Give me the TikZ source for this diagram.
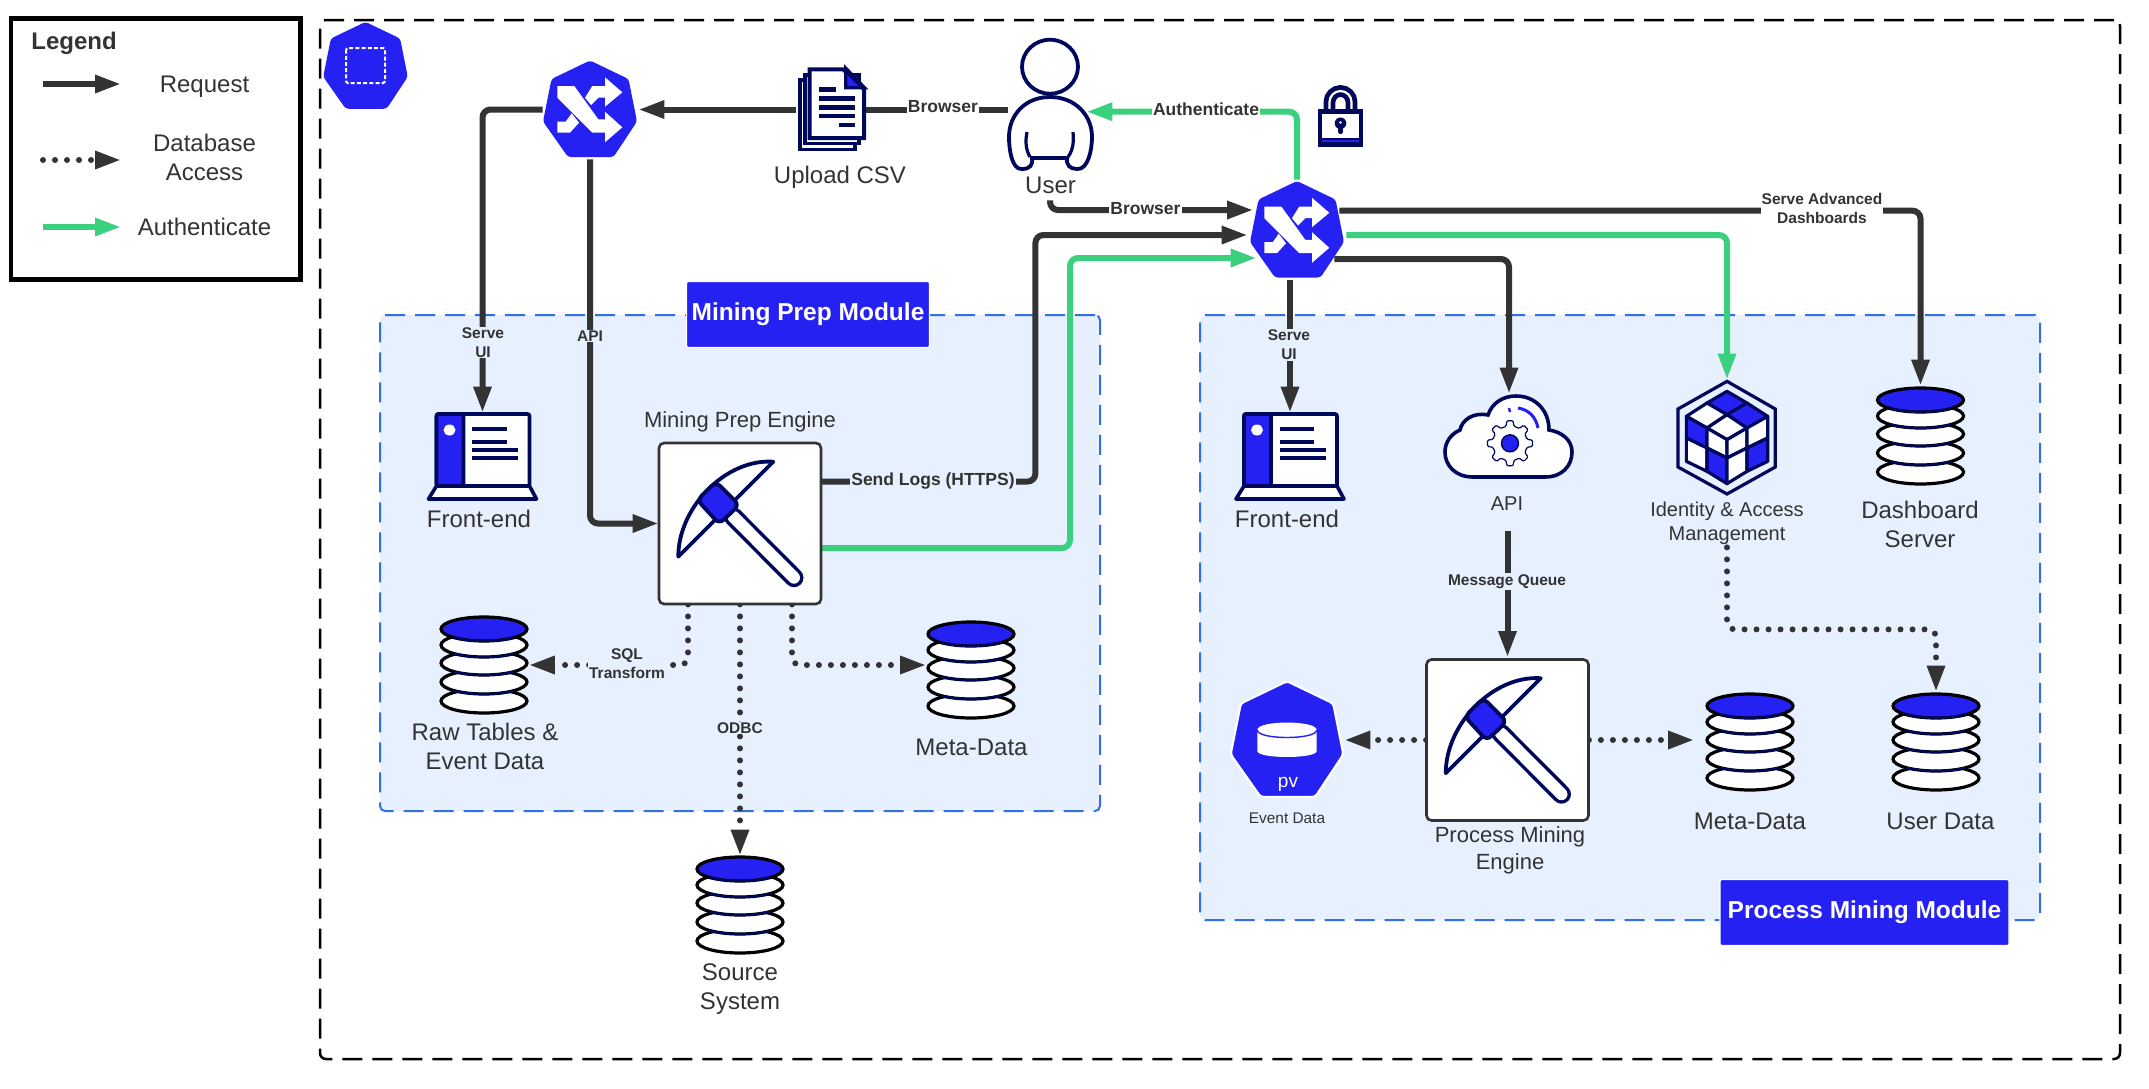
\documentclass[tikz,border=0pt]{standalone}
\usepackage{fontspec}
\setmainfont{Liberation Sans}
\usetikzlibrary{calc,arrows.meta}

\definecolor{kubeblue}{RGB}{37,33,243}
\definecolor{iconnavy}{RGB}{0,8,92}
\definecolor{zonefill}{RGB}{230,240,255}
\definecolor{zoneline}{RGB}{50,111,230}
\definecolor{flowgray}{RGB}{51,51,51}
\definecolor{authgreen}{RGB}{58,208,126}

\tikzset{
	box/.style 2 args={inner sep=0pt,minimum width=#1*0.5pt,minimum height=#2*0.5pt},
	request/.style={draw=flowgray,line width=3pt,rounded corners=4pt,-{Triangle[length=13pt,width=8.5pt]}},
	requestline/.style={draw=flowgray,line width=3pt},
	authflow/.style={draw=authgreen,line width=3pt,rounded corners=4pt,-{Triangle[length=13pt,width=8.5pt]}},
	dbaccess/.style={draw=flowgray,line width=3pt,line cap=round,dash pattern=on 0pt off 6pt,rounded corners=4pt,-{Triangle[length=13pt,width=8.5pt]}},
	zone/.style={draw=zoneline,fill=zonefill,line width=1pt,rounded corners=2.5pt,dash pattern=on 10pt off 5pt},
	modtag/.style={fill=kubeblue,draw=white,line width=0.6pt,rounded corners=1pt,text=white,font=\fontsize{12.25}{14.5}\selectfont\bfseries},
	bigtxt/.style={text=flowgray,align=center,inner sep=0pt,font=\fontsize{12}{14.5}\selectfont},
	midtxt/.style={text=flowgray,align=center,inner sep=0pt,font=\fontsize{11}{13.25}\selectfont},
	smalltxt/.style={text=flowgray,align=center,inner sep=0pt,font=\fontsize{10}{12.3}\selectfont},
	flowtxt/.style={text=flowgray,align=center,inner sep=0.5pt,font=\fontsize{7.75}{9.5}\selectfont\bfseries},
	flowbig/.style={text=flowgray,align=center,inner sep=0.5pt,font=\fontsize{8.75}{10.5}\selectfont\bfseries},
	navyline/.style={draw=iconnavy,line width=#1},
}

\def\heptagon(#1)[#2][#3]{\begin{scope}[shift={(#1.center)},scale=#2]
	\path[fill=kubeblue,#3,rounded corners=1.5pt] (0,-49) -- (38.5,-30.5) -- (47,12) -- (23.5,47.5) -- (-22,47.5) -- (-47,12) -- (-38.5,-30.5) -- cycle;
\end{scope}}
\def\switchicon(#1){\heptagon(#1)[1][]
\begin{scope}[shift={(#1.center)}]
	\fill[white] (-32.7,-23.5) -- (-15.7,-23.5) -- (8.3,9.8) -- (15,9.8) -- (15,2.2) -- (32.3,17.8) -- (15,32.8) -- (15,23.2) -- (2.3,23.2) -- (-32.7,-11.8) -- cycle;
	\fill[white] (15,-32.2) -- (32.3,-17.2) -- (15,-2.8) -- (15,-11.8) -- (8.3,-11.8) -- (1,-4.5) -- (-5,-11.8) -- (2.3,-23.5) -- (15,-23.5) -- cycle;
	\fill[white] (-32.7,12.2) -- (-24.3,12.2) -- (-18.3,3.8) -- (-11,13.2) -- (-20,23.2) -- (-32.7,23.2) -- cycle;
\end{scope}}
\def\dbstack(#1){\begin{scope}[shift={(#1.center)}]
	\foreach \yy in {36,17,-2,-20} {
		\draw[fill=white,line width=1.6pt] (0,\yy) circle[x radius=43,y radius=12];
	}
	\draw[fill=kubeblue,line width=1.6pt] (0,-36) circle[x radius=43,y radius=12];
	\foreach \yy in {17,-2,-20,-36} {
		\draw[navyline=1.1pt] (-30,\yy+8.6) .. controls (-12,\yy+13.1) and (12,\yy+13.1) .. (30,\yy+8.6);
	}
\end{scope}}
\def\screenicon(#1){\begin{scope}[shift={(#1.center)}]
	\draw[fill=white,navyline=1.8pt,rounded corners=1pt] (-46,-43) rectangle (47,29);
	\draw[fill=kubeblue,navyline=1.8pt,rounded corners=1pt] (-46,-43) rectangle (-19,29);
	\fill[white] (-33,-27) circle[x radius=6,y radius=5.5];
	\draw[fill=white,navyline=1.8pt,line join=round] (-46,29) -- (47,29) -- (54,42) -- (-54,42) -- cycle;
	\draw[navyline=1.8pt] (-10.5,-28) -- (24,-28);
	\draw[navyline=1.8pt] (-10.5,-15) -- (24,-15);
	\draw[navyline=1.8pt] (-10.5,-7) -- (35.5,-7);
	\draw[navyline=1.8pt] (-10.5,1) -- (35.5,1);
\end{scope}}
\def\pickicon(#1){\begin{scope}[shift={(#1.center)}]
	\draw[fill=white,draw=flowgray,line width=1.3pt,rounded corners=2.5pt] (-81,-80.5) rectangle (81,80.5);
	\draw[fill=white,navyline=1.9pt,line join=round] (-61.7,33.2) .. controls (-62,-15) and (-15,-65) .. (33.3,-61.8) -- cycle;
	\draw[navyline=9.5pt,line cap=round] (-6.7,-6.8) -- (54,54.2);
	\draw[draw=white,line width=6pt,line cap=round] (-6.7,-6.8) -- (54,54.2);
	\draw[fill=kubeblue,navyline=1.9pt,rounded corners=3pt] (-24,-41.8) -- (-0.7,-18.5) -- (-20.7,0.5) -- (-42.7,-23.5) -- cycle;
\end{scope}}
\def\usericon(#1){\begin{scope}[shift={(#1.center)}]
	\draw[fill=white,navyline=1.9pt] (0,-37.3) circle[x radius=28,y radius=27];
	\draw[fill=white,navyline=1.9pt] (0,-7) .. controls (-25,-7) and (-41,11) .. (-41,33) .. controls (-41,46) and (-38,66) .. (-28,65) .. controls (-20,65) and (-17,61) .. (-18,54) -- (17,54) .. controls (16,61) and (20,65) .. (27,65) .. controls (38,66) and (42,46) .. (42,33) .. controls (42,11) and (25,-7) .. (0,-7) -- cycle;
	\draw[navyline=1.6pt] (-23,28) .. controls (-25,38) and (-24,46) .. (-20,53);
	\draw[navyline=1.6pt] (23,28) .. controls (24,38) and (23,46) .. (18,53);
\end{scope}}
\def\csvicon(#1){\begin{scope}[shift={(#1.center)}]
	\draw[fill=white,navyline=1.6pt] (-30,-29.5) rectangle (25,40);
	\draw[fill=white,navyline=1.6pt] (-25,-34.5) rectangle (29,33.8);
	\draw[fill=white,navyline=2pt] (-20.3,-40.2) -- (13.3,-40.2) -- (34,-20.2) -- (34,28.5) -- (-20.3,28.5) -- cycle;
	\fill[iconnavy] (14,-45.5) -- (38.3,-20.2) -- (14,-20.2) -- cycle;
	\fill[kubeblue] (17.3,-34.5) -- (28.3,-23.5) -- (17.3,-23.5) -- cycle;
	\draw[navyline=2.3pt] (-11,-20.2) -- (6,-20.2);
	\draw[navyline=2.3pt] (-11,-11.2) -- (25,-11.2);
	\draw[navyline=2.3pt] (-11,-2.2) -- (25,-2.2);
	\draw[navyline=2.3pt] (-11,6.5) -- (25,6.5);
	\draw[navyline=2.3pt] (9,15.5) -- (25,15.5);
\end{scope}}
\def\lockicon(#1){\begin{scope}[shift={(#1.center)}]
	\draw[navyline=5.9pt] (-11,-7) -- (-11,-14) .. controls (-11,-20) and (-6,-25) .. (0,-25) .. controls (6,-25) and (11,-20) .. (11,-14) -- (11,-7);
	\draw[white,line width=1.1pt] (-11,-7) -- (-11,-14) .. controls (-11,-20) and (-6,-25) .. (0,-25) .. controls (6,-25) and (11,-20) .. (11,-14) -- (11,-7);
	\fill[iconnavy] (-22.5,-7) rectangle (22.8,30.7);
	\fill[white] (-18.2,-2) rectangle (18.5,22.3);
	\draw[kubeblue,line width=1.2pt] (-18.2,25) -- (18.5,25);
	\fill[iconnavy] (0,7.3) circle (5.8);
	\draw[navyline=2.6pt,line cap=round] (0,8) -- (0,15.5);
	\fill[white] (0,6.5) circle (1.3);
\end{scope}}
\def\cloudicon(#1){\begin{scope}[shift={(#1.center)}]
	\draw[fill=white,navyline=1.8pt] (-36,40.5) .. controls (-54,40.5) and (-64,28.5) .. (-64,15.5) .. controls (-64,5.5) and (-58,-2.5) .. (-49,-6.5) .. controls (-47,-16.5) and (-36,-24.5) .. (-21,-21.5) .. controls (-17,-33.5) and (-6,-40.5) .. (7,-40.5) .. controls (26,-40.5) and (40,-26.5) .. (40,-6.5) .. controls (53,-4.5) and (63,3.5) .. (63,15.5) .. controls (63,29.5) and (53,40.5) .. (36,40.5) -- cycle;
	\draw[kubeblue,line width=1.5pt] (9,-28.5) .. controls (21,-26.5) and (27,-18.5) .. (29,-8.5);
	\draw[kubeblue,line width=1.2pt] (0,-28.5) -- (1,-24.5);
	\begin{scope}[shift={(1,6.8)}]
		\draw[navyline=0.6pt,fill=white,rounded corners=0.6pt] (-13:17.5) \foreach \a in {0,45,...,315} { -- ({\a-13}:17.5) -- ({\a-8}:22.7) -- ({\a+8}:22.7) -- ({\a+13}:17.5) } -- cycle;
		\draw[fill=kubeblue,navyline=0.7pt] (0,0) circle (8.5);
	\end{scope}
\end{scope}}
\def\iamicon(#1){\begin{scope}[shift={(#1.center)},scale=0.3333]
	\draw[navyline=1.6pt] (0,-170) -- (145,-87) -- (145,87) -- (0,168) -- (-147,87) -- (-147,-87) -- cycle;
	\begin{scope}[navyline=1.6pt,line join=round]
		\draw[fill=kubeblue] (0,-140) -- (60,-105) -- (0,-70) -- (-60,-105) -- cycle;
		\draw[fill=kubeblue] (60,-105) -- (122,-65) -- (60,-30) -- (0,-70) -- cycle;
		\draw[fill=white] (-60,-105) -- (0,-70) -- (-60,-30) -- (-122,-65) -- cycle;
		\draw[fill=white] (0,-70) -- (60,-30) -- (0,5) -- (-60,-30) -- cycle;
		\draw[fill=kubeblue] (-122,-65) -- (-60,-30) -- (-60,30) -- (-122,0) -- cycle;
		\draw[fill=white] (-122,0) -- (-60,30) -- (-60,100) -- (-122,70) -- cycle;
		\draw[fill=white] (-60,-30) -- (0,5) -- (0,60) -- (-60,30) -- cycle;
		\draw[fill=kubeblue] (-60,30) -- (0,60) -- (0,137) -- (-60,100) -- cycle;
		\draw[fill=white] (0,5) -- (60,-30) -- (60,30) -- (0,60) -- cycle;
		\draw[fill=white] (0,60) -- (60,30) -- (60,100) -- (0,137) -- cycle;
		\draw[fill=white] (60,-30) -- (122,-65) -- (122,0) -- (60,30) -- cycle;
		\draw[fill=kubeblue] (60,30) -- (122,0) -- (122,70) -- (60,100) -- cycle;
	\end{scope}
\end{scope}}
\def\pvicon(#1){\heptagon(#1)[1.2][draw=white,line width=1.1pt]
\begin{scope}[shift={(#1.center)}]
	\fill[white] (-29.7,-10) -- (-29.7,11) .. controls (-29.7,19) and (29.7,19) .. (29.7,11) -- (29.7,-10) .. controls (29.7,-20) and (-29.7,-20) .. (-29.7,-10) -- cycle;
	\draw[kubeblue,line width=0.7pt] (-29.7,-10) .. controls (-29.7,0) and (29.7,0) .. (29.7,-10);
\end{scope}}

\begin{document}
\begin{tikzpicture}[x=0.5pt,y=-0.5pt]
	%%%%% START %%%%%
	\useasboundingbox (0,0) rectangle (2149,1088);

	\node[box={1800}{1039},draw=black,line width=1.25pt,rounded corners=3pt,dash pattern=on 10pt off 5pt] (cluster) at (1220,539.5) {};
	\node[box={720}{496},zone] (prepzone) at (740,563) {};
	\node[box={840}{605},zone] (minezone) at (1620,617.5) {};
	\node[box={289.5}{260.5},draw=black,line width=2.4pt] (legendbox) at (155.75,149) {};

	\node[box={85}{85}] (pod) at (365.5,66) {};
	\node[box={94}{95}] (swprep) at (590,109.5) {};
	\node[box={94}{94}] (swmain) at (1297,230) {};
	\node[box={68}{84}] (csv) at (830,109.5) {};
	\node[box={84}{132}] (usr) at (1050,104) {};
	\node[box={45}{62}] (lock) at (1340.5,116) {};
	\node[box={110}{88}] (feprep) at (482.5,457) {};
	\node[box={110}{88}] (femine) at (1290,457) {};
	\node[box={162}{161}] (engprep) at (740,523.5) {};
	\node[box={162}{161}] (engmine) at (1507.5,740) {};
	\node[box={89}{98}] (dbraw) at (484,665) {};
	\node[box={89}{98}] (dbmeta) at (971,670) {};
	\node[box={89}{98}] (dbsource) at (740,905) {};
	\node[box={89}{98}] (dbdash) at (1920.5,436) {};
	\node[box={89}{98}] (dbmetam) at (1750,742) {};
	\node[box={89}{98}] (dbuser) at (1936,742) {};
	\node[box={132}{85}] (cloudapi) at (1509,436.5) {};
	\node[box={98}{114}] (iam) at (1727,438) {};
	\node[box={116}{116}] (pvdata) at (1287,740) {};

	\coordinate (reqa) at (43,84);
	\coordinate (reqb) at (121,84);
	\coordinate (dba) at (43,160);
	\coordinate (dbb) at (121,160);
	\coordinate (autha) at (43,227);
	\coordinate (authb) at (121,227);
	\draw[request] (reqa) -- (reqb);
	\draw[dbaccess] (dba) -- (dbb);
	\draw[authflow] (autha) -- (authb);

	\draw[requestline] (usr.west |- csv.east) -- (csv.east);
	\draw[request] (csv.west) -- ($(swprep.east)+(1,0)$);
	\draw[request] (swprep.west) -| (feprep.north);
	\draw[request] ($(swprep.south)+(0,2)$) |- (engprep.west);
	\draw[request] ($(engprep.north east)+(0,39)$) -- ++(214,0) |- ($(swmain.west)+(-2,5)$);
	\draw[authflow] ($(engprep.east)+(0,24.5)$) -- ++(248.6,0) |- ($(swmain.west)+(7,28)$);
	\draw[request] ($(usr.south)+(0,30)$) |- ($(swmain.west)+(3.6,-20)$);
	\draw[authflow] ($(swmain.north)+(0,-3)$) |- ($(usr.east)+(-6,7.7)$);
	\draw[request] ($(swmain.east)+(-5,-19.3)$) -| ($(dbdash.north)+(0,-1)$);
	\draw[authflow] ($(swmain.east)+(2,5)$) -| ($(iam.north)+(0,-1)$);
	\draw[request] ($(swmain.east)+(-10,29)$) -| (cloudapi.north);
	\draw[request] ($(swmain.south -| femine.north)+(0,3)$) -- (femine.north);
	\draw[request] ($(cloudapi.south -| engmine.north)+(0,52)$) -- ($(engmine.north)+(0,-2)$);

	\draw[dbaccess] ($(engprep.south)+(-52,0)$) |- (dbraw.east);
	\draw[dbaccess] (engprep.south) -- (dbsource.north);
	\draw[dbaccess] ($(engprep.south)+(52,0)$) |- ($(dbmeta.west)+(0,-5)$);
	\draw[dbaccess] (engmine.west) -- ($(pvdata.east)+(-1,0)$);
	\draw[dbaccess] (engmine.east) -- ($(dbmetam.west)+(-11,-2)$);
	\draw[dbaccess] ($(iam.south)+(0,52)$) -- ++(0,82) -| ($(dbuser.north)+(0,-1)$);

	\heptagon(pod)[0.9][]
	\draw[white,line width=1pt,dash pattern=on 2pt off 1.1pt,rounded corners=0.8pt] ($(pod.center)+(-19.5,-18)$) rectangle ($(pod.center)+(19.5,17)$);
	\switchicon(swprep)
	\switchicon(swmain)
	\csvicon(csv)
	\usericon(usr)
	\lockicon(lock)
	\screenicon(feprep)
	\screenicon(femine)
	\pickicon(engprep)
	\pickicon(engmine)
	\dbstack(dbraw)
	\dbstack(dbmeta)
	\dbstack(dbsource)
	\dbstack(dbdash)
	\dbstack(dbmetam)
	\dbstack(dbuser)
	\cloudicon(cloudapi)
	\iamicon(iam)
	\pvicon(pvdata)

	\node[modtag,box={243}{66}] (tagprep) at (808,314.5) {Mining Prep Module};
	\node[modtag,box={289}{66}] (tagmine) at (1864.5,912.5) {Process Mining Module};

	\node[anchor=west,text=flowgray,inner sep=0pt,font=\fontsize{12}{14.5}\selectfont\bfseries] (legendtxt) at (31,43) {Legend};
	\node[bigtxt] (reqtxt) at (204.5,87) {Request};
	\node[bigtxt] (dbtxt) at (204.5,157.5) {Database\\Access};
	\node[bigtxt] (authtxt) at (204.5,227) {Authenticate};
	\node[bigtxt] (csvtxt) at (840,177) {Upload CSV};
	\node[bigtxt] (usrtxt) at (1050.5,185) {User};
	\node[bigtxt] (feptxt) at (479,519) {Front-end};
	\node[bigtxt] (femtxt) at (1287,519) {Front-end};
	\node[bigtxt] (rawtxt) at (485,746.5) {Raw Tables \&\\Event Data};
	\node[bigtxt] (metaptxt) at (971.5,747) {Meta-Data};
	\node[bigtxt] (srctxt) at (740,989.5) {Source\\System};
	\node[bigtxt] (dashtxt) at (1920,524.5) {Dashboard\\Server};
	\node[bigtxt] (metamtxt) at (1750,821) {Meta-Data};
	\node[bigtxt] (usrdtxt) at (1940.5,821) {User Data};
	\node[midtxt] (engptxt) at (740,421.5) {Mining Prep Engine};
	\node[midtxt] (engmtxt) at (1510,850.5) {Process Mining\\Engine};
	\node[smalltxt] (apitxt) at (1507,504) {API};
	\node[smalltxt] (iamtxt) at (1727,523.5) {Identity \& Access\\Management};
	\node[text=flowgray,inner sep=0pt,font=\fontsize{7.7}{9.5}\selectfont] (evtxt) at (1287,818) {Event Data};
	\node[text=white,inner sep=0pt,font=\fontsize{9.5}{12}\selectfont] (pvtxt) at (1288,784) {pv};

	\node[flowbig,fill=white] (brwtxta) at (943,106.5) {Browser};
	\node[flowbig,fill=white] (brwtxtb) at (1145.5,209) {Browser};
	\node[flowbig,fill=white] (authlbl) at (1206,109) {Authenticate};
	\node[flowbig,fill=zonefill] (logstxt) at (933,481.5) {Send Logs (HTTPS)};
	\node[flowtxt,fill=white] (advtxt) at (1822,208.5) {Serve Advanced\\Dashboards};
	\node[flowtxt,fill=zonefill] (uiptxt) at (483,342.5) {Serve\\UI};
	\node[flowtxt,fill=zonefill] (uimtxt) at (1289,345) {Serve\\UI};
	\node[flowtxt,fill=zonefill] (apilbl) at (590,336) {API};
	\node[flowtxt,fill=zonefill] (sqltxt) at (627,663.5) {SQL\\Transform};
	\node[flowtxt,fill=zonefill] (odbctxt) at (740,728) {ODBC};
	\node[flowtxt,fill=zonefill] (queuetxt) at (1507,581.5) {Message Queue};
	%%%%% END %%%%%
\end{tikzpicture}
\end{document}
